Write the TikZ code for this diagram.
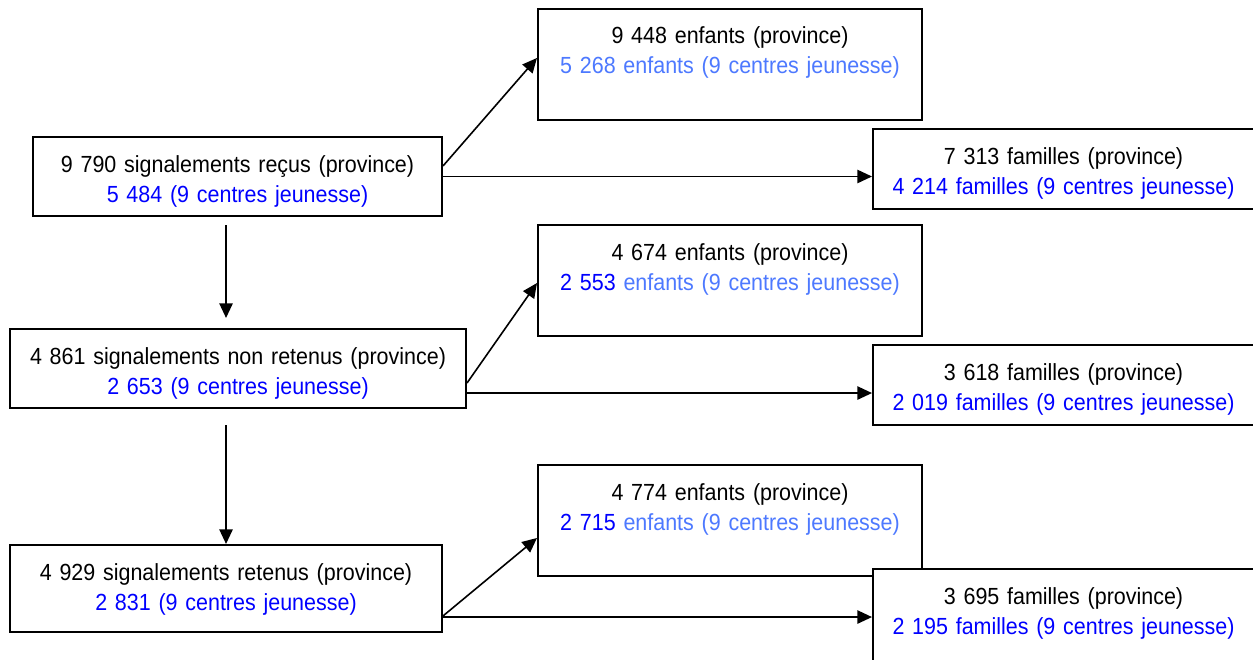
\documentclass[tikz,border=0pt]{standalone}
\usepackage{fontspec}
\setmainfont[FakeStretch=0.92]{Liberation Sans}
\usetikzlibrary{arrows.meta}
\definecolor{bleu}{RGB}{0,0,255}
\definecolor{bleuclair}{RGB}{77,121,255}
\begin{document}
\begin{tikzpicture}[x=0.75pt,y=-0.75pt,
  boite/.style={draw,fill=white,line width=1.5pt,anchor=north west,inner sep=0pt,
    align=center,text height=26.25pt,font=\fontsize{17.5}{22.5}\selectfont},
  fleche/.style={line width=1.2pt,-{Triangle[length=11pt,width=10pt]}}]
\useasboundingbox (0,0) rectangle (1253,660);
% colonne de gauche
\node[boite,text width=306.75pt,text depth=33pt] (recus) at (32,136)
  {9 790 signalements reçus (province)\\\textcolor{bleu}{5 484 (9 centres jeunesse)}};
\node[boite,text width=342pt,text depth=33pt] (nonretenus) at (9,328)
  {4 861 signalements non retenus (province)\\\textcolor{bleu}{2 653 (9 centres jeunesse)}};
\node[boite,text width=324pt,text depth=39pt] (retenus) at (9,544)
  {4 929 signalements retenus (province)\\\textcolor{bleu}{2 831 (9 centres jeunesse)}};
% enfants
\node[boite,text width=288pt,text depth=57pt] (enf1) at (537,8)
  {9 448 enfants (province)\\\textcolor{bleuclair}{5 268 enfants (9 centres jeunesse)}};
\node[boite,text width=288pt,text depth=57pt] (enf2) at (537,224)
  {4 674 enfants (province)\\\textcolor{bleu}{2 553} \textcolor{bleuclair}{enfants (9 centres jeunesse)}};
\node[boite,text width=288pt,text depth=57pt] (enf3) at (537,464)
  {4 774 enfants (province)\\\textcolor{bleu}{2 715} \textcolor{bleuclair}{enfants (9 centres jeunesse)}};
% familles
\node[boite,text width=285.75pt,text depth=33.75pt] (fam1) at (872,128)
  {7 313 familles (province)\\\textcolor{bleu}{4 214 familles (9 centres jeunesse)}};
\node[boite,text width=285.75pt,text depth=33.75pt] (fam2) at (872,344)
  {3 618 familles (province)\\\textcolor{bleu}{2 019 familles (9 centres jeunesse)}};
\node[boite,text width=285.75pt,text depth=48.75pt] (fam3) at (872,568)
  {3 695 familles (province)\\\textcolor{bleu}{2 195 familles (9 centres jeunesse)}};
% fleches
\draw[fleche] ([yshift=7.9pt]recus.east) -- ([yshift=4.9pt]enf1.west);
\draw[fleche] (recus.east) -- (recus.east -| fam1.west);
\draw[fleche,shorten <=6pt,shorten >=7.5pt] ([xshift=-8.6pt]recus.south) -- ([xshift=-8.6pt]recus.south |- nonretenus.north);
\draw[fleche] ([yshift=-10.9pt]nonretenus.east) -- ([yshift=-1.9pt]enf2.west);
\draw[fleche] ([yshift=-18.4pt]nonretenus.east) -- ([yshift=-18.4pt]nonretenus.east -| fam2.west);
\draw[fleche,shorten <=12pt] ([xshift=-8.6pt]recus.south |- nonretenus.south) -- ([xshift=-8.6pt]recus.south |- retenus.north);
\draw[fleche] ([yshift=-20.6pt]retenus.east) -- ([yshift=-13.1pt]enf3.west);
\draw[fleche] ([yshift=-21.4pt]retenus.east) -- ([yshift=-21.4pt]retenus.east -| fam3.west);
\end{tikzpicture}
\end{document}
